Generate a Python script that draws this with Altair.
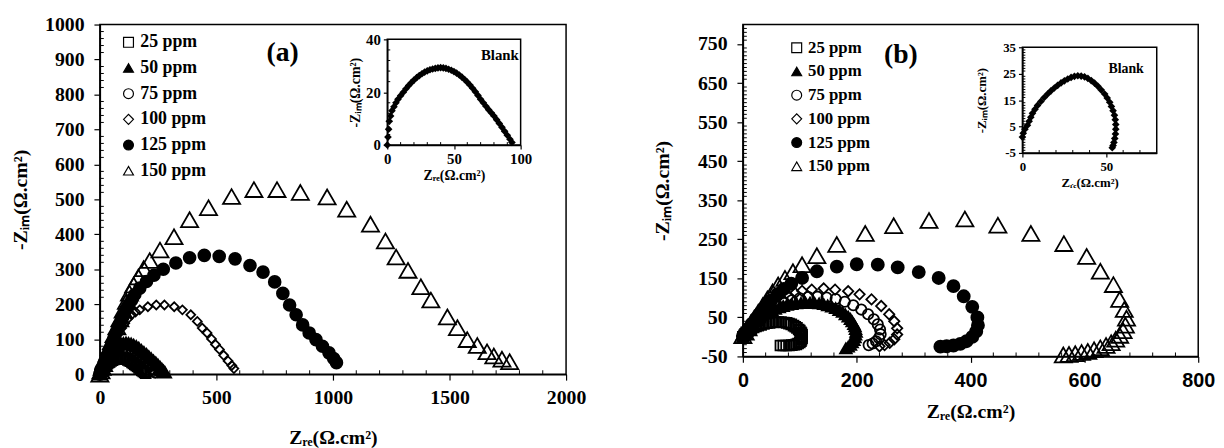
import altair as alt
import pandas as pd

SERIES = ["25 ppm", "50 ppm", "75 ppm", "100 ppm", "125 ppm", "150 ppm"]
SHAPES = ["square", "triangle-up", "circle", "diamond", "circle", "triangle-up"]
FILLS = ["transparent", "black", "transparent", "transparent", "black", "transparent"]
STROKES = ["black"] * 6

# ---------------- Panel (a) ----------------
a25_x = [0, 2, 4, 6, 9, 12, 15, 19, 23, 27, 32, 37, 42, 48, 54, 60, 66, 72, 78, 84, 90, 96, 102, 108, 114, 120,
         126, 132, 138, 144, 150, 156, 162, 168, 174, 180, 186, 192, 197]
a25_y = [0, 3, 6, 9, 12, 15, 18, 21, 24, 27, 30, 33, 35, 38, 40, 42, 44, 45, 46, 46, 46, 46, 45, 44, 43, 41, 39,
         37, 34, 31, 28, 25, 22, 18, 15, 11, 8, 5, 3]
a50_x = [0, 2, 4, 7, 10, 14, 18, 22, 27, 33, 39, 46, 54, 62, 71, 81, 91, 101, 112, 123, 134, 145, 156, 167, 178,
         189, 200, 210, 220, 230, 240, 249, 258, 266, 273, 279]
a50_y = [0, 4, 9, 14, 19, 25, 31, 37, 44, 51, 58, 65, 71, 76, 81, 85, 87, 89, 90, 89, 87, 84, 80, 75, 69, 63, 57,
         51, 45, 39, 33, 27, 21, 15, 10, 6]
a75_x = [0, 4, 9, 15, 22, 30, 40, 52, 65, 79, 94, 109, 124, 139, 154, 168, 181, 193, 204, 214, 223, 231, 238]
a75_y = [0, 7, 14, 22, 31, 40, 49, 57, 64, 69, 72, 73, 71, 67, 61, 54, 46, 38, 30, 22, 15, 9, 4]
a100_x = [0, 5, 11, 18, 26, 35, 45, 56, 68, 81, 94, 107, 121, 136, 153, 171, 206, 242, 277, 319, 354, 390,
          418, 439, 460, 479, 496, 513, 531, 550, 566, 575]
a100_y = [0, 8, 17, 28, 40, 54, 69, 85, 101, 117, 132, 146, 159, 170, 178, 184, 193, 198, 198, 193, 184, 170,
          151, 132, 118, 101, 85, 71, 54, 38, 25, 16]
a125_x = [0, 4, 9, 15, 22, 30, 39, 49, 60, 72, 85, 98, 112, 124, 136, 150, 171, 200, 232, 272, 326, 385, 448,
          512, 580, 644, 700, 750, 785, 814, 842, 870, 898, 927, 955, 983, 1003, 1015]
a125_y = [0, 7, 15, 25, 37, 51, 66, 83, 101, 121, 142, 163, 184, 198, 212, 228, 246, 265, 283, 300, 318, 333, 340,
          337, 330, 311, 292, 264, 231, 198, 170, 141, 118, 99, 80, 61, 45, 33]
a150_x = [0, 5, 10, 16, 23, 31, 40, 50, 61, 73, 86, 100, 114, 127, 145, 165, 188, 214, 258, 318, 385, 466, 565,
          661, 760, 860, 975, 1059, 1161, 1225, 1271, 1322, 1377, 1420, 1491, 1534, 1576, 1619, 1661, 1690, 1725, 1758]
a150_y = [0, 9, 19, 30, 43, 58, 75, 93, 113, 135, 158, 183, 208, 232, 255, 278, 302, 325, 355, 393, 442, 476, 508,
          528, 528, 520, 507, 472, 429, 381, 335, 297, 250, 212, 164, 133, 99, 82, 64, 52, 43, 36]

# inset (a) : Blank
ia_x = [0, 0.5, 1, 1.5, 2.5, 3.5, 5, 6.5, 8, 10, 12, 14, 16, 18, 20, 22, 24, 26, 28, 30, 32, 34, 36, 38, 40, 42,
        44, 46, 48, 50, 52, 54, 56, 58, 60, 62, 64, 66, 68, 70, 72, 74, 76, 78, 80, 82, 84, 86, 88, 90, 92, 93.5]
ia_y = [0, 3, 6, 9, 11, 13, 14.5, 16, 17.3, 18.7, 20, 21.3, 22.5, 23.6, 24.6, 25.5, 26.3, 27, 27.6, 28.1, 28.5,
        28.8, 29, 29.2, 29.3, 29.2, 29, 28.7, 28.3, 27.8, 27.2, 26.5, 25.7, 24.8, 23.8, 22.7, 21.5, 20.2, 18.8,
        17.3, 16, 14.7, 13.4, 12.2, 11, 9.6, 8.2, 6.7, 5.2, 3.7, 2.2, 1.0]

# ---------------- Panel (b) ----------------
b25_x = [0, 2, 4, 6, 9, 12, 15, 19, 23, 27, 32, 37, 42, 47, 52, 57, 62, 67, 72, 77, 81, 85, 89, 92, 95, 98, 100,
         102, 103, 104, 104, 104, 103, 102, 100, 97, 94, 90, 86, 81, 76, 71, 66]
b25_y = [0, 4, 8, 12, 15, 18, 21, 24, 27, 29, 31, 33, 35, 36, 37, 38, 38, 38, 37, 36, 34, 32, 29, 26, 23, 19, 16,
         12, 9, 5, 1, -3, -7, -11, -14, -17, -19, -20, -21, -22, -22, -22, -22]
b50_x = [0, 2, 4, 6, 8, 11, 14, 17, 21, 25, 29, 34, 39, 45, 51, 57, 64, 71, 78, 86, 94, 102, 110, 118, 126, 134,
         142, 149, 156, 163, 169, 175, 180, 185, 189, 192, 195, 197, 198, 199, 198, 197, 195, 192, 189, 185, 181]
b50_y = [0, 5, 10, 15, 20, 25, 30, 35, 40, 45, 50, 55, 60, 64, 68, 72, 76, 79, 82, 84, 86, 87, 88, 88, 87, 86, 84,
         81, 78, 74, 69, 64, 58, 52, 46, 40, 33, 27, 20, 13, 6, -1, -8, -14, -20, -25, -29]
b75_x = [0, 5, 10, 16, 23, 31, 40, 50, 61, 73, 86, 100, 115, 131, 147, 163, 179, 194, 208, 220, 230, 237, 241,
         242, 239, 234, 228, 221]
b75_y = [1, 9, 18, 27, 37, 47, 58, 68, 78, 87, 94, 99, 102, 103, 101, 97, 90, 81, 70, 58, 45, 32, 19, 7, -3, -11,
         -17, -21]
b100_x = [0, 5, 10, 16, 23, 31, 40, 50, 60, 70, 81, 92, 104, 121, 142, 162, 185, 205, 226, 243, 257, 266, 271,
          271, 266, 258, 249, 240]
b100_y = [1, 9, 18, 28, 39, 50, 62, 74, 86, 96, 104, 112, 118, 121, 124, 121, 117, 109, 96, 79, 58, 40, 22, 6,
          -6, -15, -21, -24]
b125_x = [0, 5, 10, 16, 23, 31, 40, 50, 61, 72, 85, 104, 130, 165, 200, 237, 272, 309, 344, 370, 388, 403, 412,
          413, 410, 403, 393, 382, 370, 358, 347]
b125_y = [2, 12, 22, 34, 47, 62, 78, 94, 110, 123, 136, 151, 168, 180, 186, 185, 178, 166, 151, 130, 104, 77, 50,
          30, 14, 0, -11, -18, -22, -24, -25]
b150_x = [0, 4, 9, 14, 20, 27, 35, 43, 52, 62, 74, 88, 104, 130, 165, 215, 265, 327, 390, 448, 506, 564, 604, 628,
          651, 662, 670, 674, 672, 668, 662, 655, 647, 638, 628, 617, 606, 595, 584, 573, 563]
b150_y = [3, 12, 23, 35, 48, 63, 80, 97, 115, 133, 150, 167, 185, 208, 237, 265, 285, 298, 302, 286, 265, 239,
          206, 168, 134, 96, 70, 48, 30, 16, 4, -6, -15, -22, -28, -33, -37, -40, -43, -45, -46]

# inset (b) : Blank
ib_x = [0, 0.5, 1.5, 3, 4, 5, 6, 7.5, 9, 11, 13, 15, 17, 19, 21, 23, 25, 27, 29, 31, 33, 35, 37, 39, 41, 43, 45,
        47, 49, 50.5, 52, 53, 54, 54.8, 55.3, 55.6, 55.6, 55.4, 55, 54.5, 54, 53.5]
ib_y = [1, 2.5, 4, 5.5, 7, 8.5, 10, 11.5, 13, 14.5, 16, 17.3, 18.5, 19.6, 20.6, 21.5, 22.3, 23, 23.6, 24, 24.2,
        24.1, 23.8, 23.2, 22.4, 21.4, 20.2, 18.8, 17.3, 15.8, 14.2, 12.6, 11, 9.3, 7.6, 5.8, 4, 2.2, 0.5, -1,
        -2.2, -3]

# tick values
a_x_ticks = [0, 500, 1000, 1500, 2000]
a_y_ticks = list(range(0, 1001, 100))
b_x_ticks = [0, 200, 400, 600, 800]
b_y_ticks = list(range(-50, 751, 100))
ia_x_ticks = [0, 50, 100]
ia_y_ticks = [0, 20, 40]
ib_x_ticks = [0, 50]
ib_y_ticks = [-5, 5, 15, 25, 35]

a_x_minor = [v for v in range(100, 2000, 100) if v % 500]
a_y_minor = [v for v in range(20, 1000, 20) if v % 100]
b_x_minor = [v for v in range(40, 800, 40) if v % 200]
b_y_minor = [v for v in range(-40, 800, 10) if (v + 50) % 100]
ia_x_minor = [10, 20, 30, 40, 60, 70, 80, 90]
ia_y_minor = [4, 8, 12, 16, 24, 28, 32, 36]
ib_x_minor = [10, 20, 30, 40, 60, 70]
ib_y_minor = [v for v in range(-4, 35) if (v + 5) % 10]

# marker areas (px^2) per series, per panel
SIZES_A = [100, 160, 110, 81, 144, 300]
SIZES_B = [100, 140, 110, 110, 150, 300]

SERIF = "Liberation Serif"
SANS = "Liberation Sans"
TITLE_RE = "Zᵣₑ(Ω.cm²)"
TITLE_IM = "-Zᵢₘ(Ω.cm²)"


def long_df(xs_list, ys_list, sizes):
    rows = []
    for name, xs, ys, sz in zip(SERIES, xs_list, ys_list, sizes):
        for xv, yv in zip(xs, ys):
            rows.append({"x": xv, "y": yv, "series": name, "sz": sz})
    return pd.DataFrame(rows)


def sc(dom, rng=None):
    if rng is None:
        return alt.Scale(domain=dom, nice=False, zero=False)
    return alt.Scale(domain=dom, range=rng, nice=False, zero=False)


def axis(values, title, font, fs, tfs, lp, tp, tick, orient, offset=0):
    return alt.Axis(values=values, title=title, orient=orient, offset=offset, grid=False, domainColor="black",
                    domainWidth=1.5, tickColor="black", tickSize=tick, tickWidth=1.2, labelFont=font,
                    labelFontWeight="bold", labelFontSize=fs, labelColor="black", labelPadding=lp,
                    titleFont=SERIF, titleFontWeight="bold", titleFontSize=tfs, titleColor="black",
                    titlePadding=tp, labelFlush=False, labelOverlap=False, labelExpr="'' + datum.value")


def make_panel(df, W, H, xdom, ydom, xaxis, yaxis, leg, x_minor, y_minor, label_text, label_pos,
               ixd, iyd, ixr, iyr, ix, iy, ixaxis, iyaxis, ixm, iym, blank_pos, blank_fs):
    pts = alt.Chart(df).mark_point(filled=True, opacity=1, strokeWidth=1.8).encode(
        x=alt.X("x:Q", scale=sc(xdom), axis=xaxis),
        y=alt.Y("y:Q", scale=sc(ydom), axis=yaxis),
        shape=alt.Shape("series:N", scale=alt.Scale(domain=SERIES, range=SHAPES), legend=leg, title=None),
        fill=alt.Fill("series:N", scale=alt.Scale(domain=SERIES, range=FILLS), legend=leg, title=None),
        stroke=alt.Stroke("series:N", scale=alt.Scale(domain=SERIES, range=STROKES), legend=leg, title=None),
        size=alt.Size("sz:Q", scale=None),
    )
    ymin = alt.Chart(pd.DataFrame({"v": y_minor})).mark_rule(color="black", strokeWidth=1).encode(
        y=alt.Y("v:Q", scale=sc(ydom), axis=None), x=alt.value(0), x2=alt.value(4))
    xmin = alt.Chart(pd.DataFrame({"v": x_minor})).mark_rule(color="black", strokeWidth=1).encode(
        x=alt.X("v:Q", scale=sc(xdom), axis=None), y=alt.value(H), y2=alt.value(H - 4))
    lab = alt.Chart(pd.DataFrame({"t": [label_text]})).mark_text(
        font=SERIF, fontWeight="bold", fontSize=28, color="black", align="center", baseline="middle"
    ).encode(text="t:N", x=alt.value(label_pos[0]), y=alt.value(label_pos[1]))

    ipts = alt.Chart(pd.DataFrame({"x": ix, "y": iy})).mark_point(
        shape="diamond", filled=True, color="black", opacity=1, size=60
    ).encode(
        x=alt.X("x:Q", scale=sc(ixd, ixr), axis=ixaxis),
        y=alt.Y("y:Q", scale=sc(iyd, iyr), axis=iyaxis),
    )
    frame = alt.Chart(pd.DataFrame({"x0": [ixd[0]], "x1": [ixd[1]], "y0": [iyd[0]], "y1": [iyd[1]]})).mark_rect(
        fillOpacity=0, stroke="black", strokeWidth=1.5
    ).encode(
        x=alt.X("x0:Q", scale=sc(ixd, ixr), axis=None), x2="x1:Q",
        y=alt.Y("y0:Q", scale=sc(iyd, iyr), axis=None), y2="y1:Q",
    )
    iymin = alt.Chart(pd.DataFrame({"v": iym})).mark_rule(color="black", strokeWidth=1).encode(
        y=alt.Y("v:Q", scale=sc(iyd, iyr), axis=None), x=alt.value(ixr[0]), x2=alt.value(ixr[0] + 3))
    ixmin = alt.Chart(pd.DataFrame({"v": ixm})).mark_rule(color="black", strokeWidth=1).encode(
        x=alt.X("v:Q", scale=sc(ixd, ixr), axis=None), y=alt.value(iyr[0]), y2=alt.value(iyr[0] - 3))
    blank = alt.Chart(pd.DataFrame({"t": ["Blank"]})).mark_text(
        font=SERIF, fontWeight="bold", fontSize=blank_fs, color="black", align="center", baseline="middle"
    ).encode(text="t:N", x=alt.value(blank_pos[0]), y=alt.value(blank_pos[1]))

    return alt.layer(pts, ymin, xmin, lab, ipts, frame, iymin, ixmin, blank).resolve_scale(
        x="independent", y="independent"
    ).properties(width=W, height=H)


def legend(x, y, fs, rp):
    return alt.Legend(orient="none", legendX=x, legendY=y, labelFont=SERIF, labelFontWeight="bold",
                      labelFontSize=fs, labelColor="black", symbolSize=100, symbolStrokeColor="black",
                      symbolStrokeWidth=1.2, rowPadding=rp, labelOffset=3, padding=0)


df_a = long_df([a25_x, a50_x, a75_x, a100_x, a125_x, a150_x], [a25_y, a50_y, a75_y, a100_y, a125_y, a150_y],
               SIZES_A)
df_b = long_df([b25_x, b50_x, b75_x, b100_x, b125_x, b150_x], [b25_y, b50_y, b75_y, b100_y, b125_y, b150_y],
               SIZES_B)

WA, HA = 472, 354
WB, HB = 461, 336

ia_xr, ia_yr = [291, 426], [122, 15]
ib_xr, ib_yr = [283, 419], [130, 23]

panel_a = make_panel(
    df_a, WA, HA, [0, 2000], [0, 1000],
    axis(a_x_ticks, TITLE_RE, SERIF, 20, 20, 8, 20, 6, "bottom"),
    axis(a_y_ticks, TITLE_IM, SERIF, 20, 20, 10, 14, 6, "left"),
    legend(20, 9, 18, 8), a_x_minor, a_y_minor, "(a)", (185, 29),
    [0, 100], [0, 40], ia_xr, ia_yr, ia_x, ia_y,
    axis(ia_x_ticks, TITLE_RE, SERIF, 15, 14, 3, 2, 4, "bottom", offset=-(HA - ia_yr[0])),
    axis(ia_y_ticks, TITLE_IM, SERIF, 15, 14, 3, 3, 4, "left", offset=-ia_xr[0]),
    ia_x_minor, ia_y_minor, (405, 31), 15,
)

panel_b = make_panel(
    df_b, WB, HB, [0, 800], [-50, 800],
    axis(b_x_ticks, TITLE_RE, SANS, 20, 20, 8, 12, 6, "bottom"),
    axis(b_y_ticks, TITLE_IM, SERIF, 20, 20, 10, 25, 6, "left"),
    legend(46, 15, 17, 6), b_x_minor, b_y_minor, "(b)", (160, 31),
    [0, 80], [-5, 35], ib_xr, ib_yr, ib_x, ib_y,
    axis(ib_x_ticks, TITLE_RE, SERIF, 13, 13, 4, 3, 4, "bottom", offset=-(HB - ib_yr[0])),
    axis(ib_y_ticks, TITLE_IM, SERIF, 13, 13, 3, 14, 4, "left", offset=-ib_xr[0]),
    ib_x_minor, ib_y_minor, (388, 45), 14,
)

chart = alt.hconcat(panel_a, panel_b, spacing=179, bounds="flush").resolve_scale(
    shape="independent", fill="independent", stroke="independent"
).resolve_legend(shape="independent", fill="independent", stroke="independent").properties(
    padding={"left": 2, "top": 3, "right": 0, "bottom": 0}
).configure_view(stroke="black", strokeWidth=1.5)

chart.save("out.html", embed_options={"renderer": "svg", "actions": False})
